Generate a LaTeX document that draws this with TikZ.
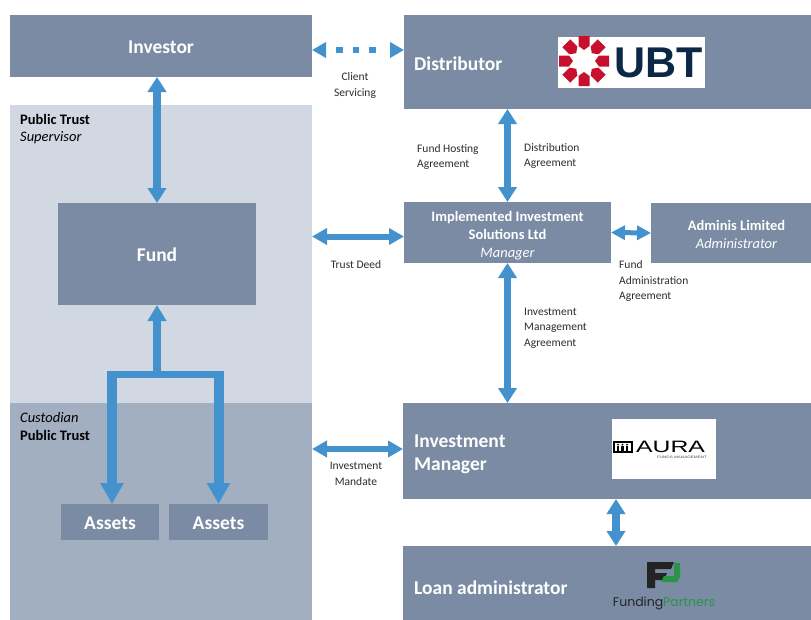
\documentclass[tikz,border=0pt]{standalone}
\usepackage{fontspec}
\setmainfont{Carlito}
\newfontfamily\arialf{Liberation Sans}
\newfontfamily\popf{Poppins}
\usetikzlibrary{arrows.meta}
\definecolor{boxc}{RGB}{122,139,163}
\definecolor{panellight}{RGB}{209,216,226}
\definecolor{paneldark}{RGB}{162,175,192}
\definecolor{arrc}{RGB}{68,146,205}
\definecolor{labc}{RGB}{45,45,45}
\definecolor{ubtred}{RGB}{200,16,46}
\definecolor{ubtnavy}{RGB}{12,40,70}
\definecolor{fpgreen}{RGB}{40,150,70}
\definecolor{fpdark}{RGB}{35,35,35}
\newcommand\myfs[2]{\fontsize{#1}{#2}\selectfont}
\begin{document}
\begin{tikzpicture}[x=1pt,y=-1pt,
  box/.style={fill=boxc, draw=none, inner sep=0pt, outer sep=0pt},
  panel/.style={draw=none, inner sep=0pt, outer sep=0pt},
  wt/.style={text=white, font=\bfseries\myfs{19.5}{23}, inner sep=0pt},
  boxtext/.style={wt, text height=15.6pt, text depth=0pt},
  mt/.style={text=white, font=\bfseries\myfs{14.5}{18}, inner sep=0pt},
  lab/.style={font=\myfs{11.5}{15.5}, text=labc, align=left, inner sep=0pt},
  corner/.style={font=\myfs{14.5}{17.5}, align=left, inner sep=0pt, anchor=west},
  link/.style={draw=arrc, line width=6pt, {Triangle[width=16pt,length=15pt]}-{Triangle[width=16pt,length=15pt]}},
  vlink/.style={draw=arrc, line width=7.5pt, {Triangle[width=18pt,length=15pt]}-{Triangle[width=18pt,length=15pt]}},
  slink/.style={draw=arrc, line width=5pt, {Triangle[width=14pt,length=14pt]}-{Triangle[width=14pt,length=14pt]}},
  dotlink/.style={draw=arrc, line width=6.5pt, dash pattern=on 0pt off 11pt on 6.5pt off 10pt on 6.5pt off 10pt on 6.5pt off 40pt, {Triangle[width=15pt,length=14pt]}-{Triangle[width=15pt,length=14pt]}},
  trunk/.style={draw=arrc, line width=8pt, -{Triangle[width=18pt,length=16pt]}},
  leg/.style={draw=arrc, line width=10pt, -{Triangle[width=22pt,length=21pt]}},
  bar/.style={draw=arrc, line width=7pt, line cap=projecting},
]
\useasboundingbox (0,0) rectangle (811,619);
\clip (0,0) rectangle (811,619);
\fill[white] (0,0) rectangle (811,619);

% panels
\node[panel, fill=panellight, minimum width=302pt, minimum height=298pt] (sup) at (161,254) {};
\node[panel, fill=paneldark, minimum width=302pt, minimum height=222pt] (cust) at (161,514) {};
\node[corner] (supt) at (20,129) {\textbf{Public Trust}\\\textit{Supervisor}};
\node[corner] (custt) at (20,426.5) {\textit{Custodian}\\\textbf{Public Trust}};

% boxes
\node[box, minimum width=302pt, minimum height=62pt, boxtext] (inv) at (161,46) {Investor};
\node[box, minimum width=416pt, minimum height=94pt] (dist) at (612,62) {};
\node[wt, anchor=west] (distt) at (414,64) {Distributor};
\node[box, minimum width=198pt, minimum height=102pt, boxtext] (fund) at (157,254) {Fund};
\node[box, minimum width=98pt, minimum height=36pt, boxtext] (a1) at (110,522) {Assets};
\node[box, minimum width=99pt, minimum height=36pt, boxtext] (a2) at (218.5,522) {Assets};
\node[box, minimum width=207pt, minimum height=61pt] (iis) at (507.5,232.5) {};
\node[mt, align=center] (iist) at (507.5,235.5) {Implemented Investment\\Solutions Ltd\\{\mdseries\itshape Manager}};
\node[box, minimum width=169pt, minimum height=60pt] (adm) at (735.5,233) {};
\node[mt, align=center] (admt) at (736.5,234.5) {Adminis Limited\\{\mdseries\itshape Administrator}};
\node[box, minimum width=417pt, minimum height=96pt] (im) at (611.5,451) {};
\node[wt, anchor=west, align=left, font=\bfseries\myfs{19.5}{23.5}] (imt) at (414,454.5) {Investment\\Manager};
\node[box, minimum width=417pt, minimum height=79pt] (loan) at (611.5,585.5) {};
\node[wt, anchor=west] (loant) at (414,588) {Loan administrator};

% labels
\node[lab, align=center] (l1) at (355,85.5) {Client\\Servicing};
\node[lab, anchor=west] (l2) at (417,157) {Fund Hosting\\Agreement};
\node[lab, anchor=west] (l3) at (524,156) {Distribution\\Agreement};
\node[lab, align=center] (l4) at (356,264.5) {Trust Deed};
\node[lab, anchor=west] (l5) at (619,281) {Fund\\Administration\\Agreement};
\node[lab, anchor=west] (l6) at (524,328) {Investment\\Management\\Agreement};
\node[lab, align=center] (l7) at (356,474) {Investment\\Mandate};

% connectors
\draw[dotlink] ([yshift=-4pt]inv.east) -- ([yshift=-4pt]inv.east -| dist.west);
\draw[vlink] (inv.south -| fund.north) -- (fund.north);
\draw[link] ([yshift=-4pt]iis.west -| sup.east) -- ([yshift=-4pt]iis.west);
\draw[link] ([yshift=2pt]im.west -| cust.east) -- ([yshift=2pt]im.west);
\draw[vlink] (dist.south -| iis.north) -- (iis.north);
\draw[vlink] (iis.south) -- (iis.south |- im.north);
\draw[slink] (iis.east) -- (adm.west);
\draw[vlink] ([xshift=4.5pt]im.south) -- ([xshift=4.5pt]im.south |- loan.north);

% fund tree
\coordinate (split) at (157,374.5);
\draw[bar] ([xshift=2pt]a1.north |- split) -- (a2.north |- split);
\draw[trunk] (split) -- (fund.south);
\draw[leg] ([xshift=2pt,yshift=3.5pt]a1.north |- split) -- ([xshift=2pt]a1.north);
\draw[leg] ([yshift=3.5pt]a2.north |- split) -- (a2.north);

% UBT logo
\fill[white] (558,37) rectangle (705,88);
\foreach \a in {0,45,...,315}
  \fill[ubtred, shift={(584,61)}, rotate=\a] (11,0) -- (15,5.5) -- (25,5.5) -- (25,-5.5) -- (15,-5.5) -- cycle;
\node[anchor=west, inner sep=0pt, text=ubtnavy, font=\arialf\bfseries\myfs{43}{43}] (ubt) at (614,62.5) {UBT};

% AURA logo
\fill[white] (612,419) rectangle (716,479);
\draw[line width=1.3pt] (614,442) rectangle (632,452);
\foreach \xx in {618,622.5,627}{
  \fill (\xx,444.6) circle (1.1pt);
  \fill (\xx-1.1,446.3) rectangle (\xx+1.1,450.5);
}
\node[anchor=west, inner sep=0pt, font=\arialf\myfs{16.5}{17}] (aura) at (636,447) {\scalebox{1.5}[1]{AURA}};
\node[inner sep=0pt, font=\arialf\myfs{3.4}{4}, text=black!70] (auras) at (682,457.5) {\scalebox{1.35}[1]{FUNDS MANAGEMENT}};

% Funding Partners logo
\fill[fpdark] (647,562) -- (674,562) -- (671,569) -- (655,569) -- (655,573) -- (667,573) -- (664,580) -- (655,580) -- (655,588) -- (647,588) -- cycle;
\fill[fpgreen] (674,563) -- (680,563) -- (680,577) -- (677,582) -- (661,582) -- (664,576) -- (674,576) -- cycle;
\node[inner sep=0pt, font=\popf\myfs{12.5}{13}] (fpt) at (664,603) {\textcolor{fpdark}{Funding}\textcolor{fpgreen}{Partners}};
\end{tikzpicture}
\end{document}
